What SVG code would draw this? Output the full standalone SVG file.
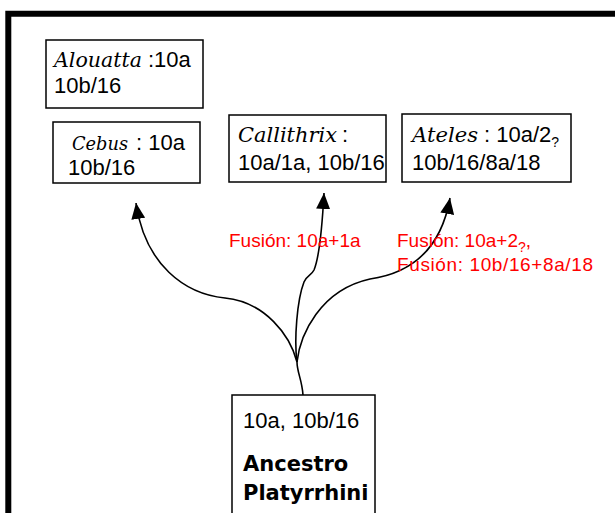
<svg xmlns="http://www.w3.org/2000/svg" width="615" height="513" viewBox="0 0 615 513">
<style>
.box{fill:#fff;stroke:#000;stroke-width:1.5}
.t{font-family:"Liberation Sans",Arial,sans-serif;font-size:22px;fill:#000}
.it{font-family:"DejaVu Serif",serif;font-style:italic;font-size:21px;fill:#000}
.b{font-family:"DejaVu Sans",sans-serif;font-weight:bold;font-size:21px;fill:#000}
.red{font-family:"Liberation Sans",Arial,sans-serif;font-size:19px;fill:#ff0000}
.sub{font-family:"Liberation Sans",Arial,sans-serif;font-size:14px}
.con{fill:none;stroke:#000;stroke-width:1.6}
</style>
<defs>
<marker id="ah" viewBox="0 0 16 14" refX="16" refY="7" markerWidth="16" markerHeight="14" markerUnits="userSpaceOnUse" orient="auto">
<path d="M0,0 L16,7 L0,14 z" fill="#000"/>
</marker>
</defs>
<rect width="615" height="513" fill="#fff"/>
<path d="M8.3,520 V13.8 H620" fill="none" stroke="#000" stroke-width="6"/>

<g id="connectors">
<path class="con" d="M303,395 C302,380 297,372 297,362"/>
<path class="con" marker-end="url(#ah)" d="M297,362 C290,335 265,302 225,298 C185,294 145,265 136,203"/>
<path class="con" marker-end="url(#ah)" d="M297,362 C294,340 297,300 304,282 C307,275 311,276 314,270 C319,258 322,230 324,193"/>
<path class="con" marker-end="url(#ah)" d="M297,362 C300,335 320,290 370,279 C405,274 440,255 450,198"/>
</g>

<g id="alouatta">
<rect class="box" x="46" y="40" width="157" height="68"/>
<text class="it" x="54" y="67" style="font-size:20.5px" textLength="88" lengthAdjust="spacingAndGlyphs">Alouatta</text>
<text class="t" x="148" y="67">:10a</text>
<text class="t" x="54" y="93">10b/16</text>
</g>

<g id="cebus">
<rect class="box" x="53" y="122" width="147" height="61"/>
<text class="it" x="72" y="150" style="font-size:19px" textLength="56" lengthAdjust="spacingAndGlyphs">Cebus</text>
<text class="t" x="136" y="150">: 10a</text>
<text class="t" x="68" y="175">10b/16</text>
</g>

<g id="callithrix">
<rect class="box" x="229" y="115" width="157" height="67"/>
<text class="it" x="238" y="142" textLength="99" lengthAdjust="spacingAndGlyphs">Callithrix</text>
<text class="t" x="342" y="142">:</text>
<text class="t" x="238" y="170">10a/1a, 10b/16</text>
</g>

<g id="ateles">
<rect class="box" x="402" y="114" width="169" height="68"/>
<text class="it" x="412" y="142" textLength="66" lengthAdjust="spacingAndGlyphs">Ateles</text>
<text class="t" x="484" y="142">: 10a/2<tspan class="sub" dy="5">?</tspan></text>
<text class="t" x="412" y="170">10b/16/8a/18</text>
</g>

<g id="ancestro">
<rect class="box" x="232" y="395" width="143" height="130"/>
<text class="t" x="243" y="428">10a, 10b/16</text>
<text class="b" x="243" y="471">Ancestro</text>
<text class="b" x="243" y="500">Platyrrhini</text>
</g>

<g id="labels">
<text class="red" x="229" y="247">Fusión: 10a+1a</text>
<text class="red" x="397" y="247">Fusión: 10a+2<tspan class="sub" dy="5">?</tspan><tspan dy="-5">,</tspan></text>
<text class="red" x="397" y="271" textLength="196">Fusión: 10b/16+8a/18</text>
</g>
</svg>
